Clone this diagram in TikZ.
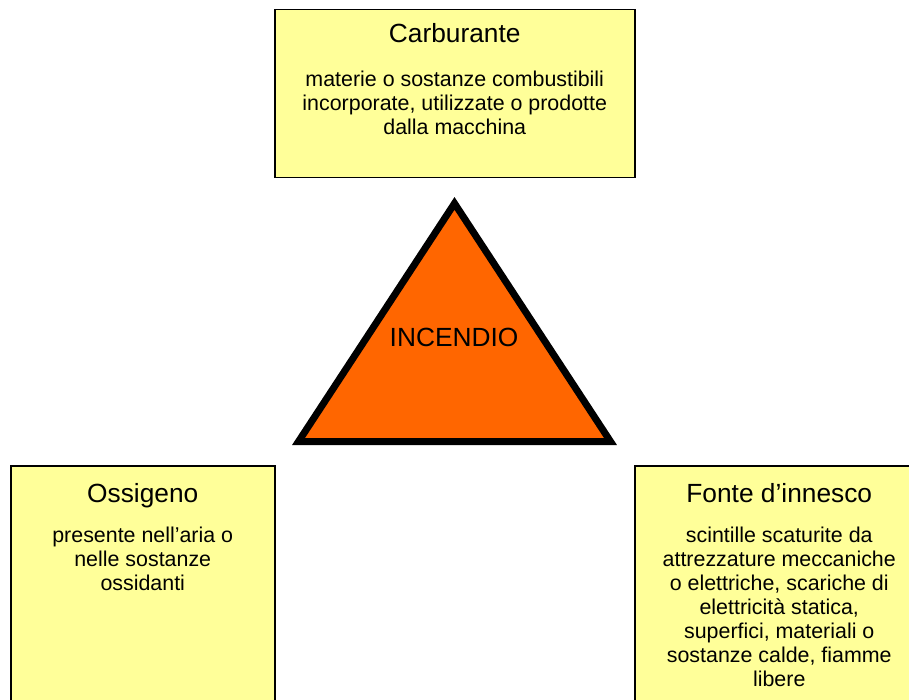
\documentclass[tikz,border=0pt]{standalone}
\usepackage{fontspec}
\setmainfont{Liberation Sans}
\usetikzlibrary{calc}
\definecolor{noteyellow}{HTML}{FFFF99}
\definecolor{fireorange}{HTML}{FF6600}
\begin{document}
\begin{tikzpicture}[x=1pt,y=-1pt,
  card/.style={draw=black, line width=1.5pt, fill=noteyellow, rectangle,
    inner sep=0pt, anchor=north west},
  heading/.style={font=\fontsize{26.3}{30}\selectfont, anchor=base, inner sep=0pt},
  body/.style={font=\fontsize{21.4}{24}\selectfont, align=center, anchor=base,
    inner sep=0pt},
]
\useasboundingbox (0,0) rectangle (909,700);
\clip (0,0) rectangle (909,700);

% the three cards
\node[card, minimum width=360, minimum height=168] (carb) at (274,9) {};
\node[card, minimum width=264, minimum height=260] (oss) at (10,465) {};
\node[card, minimum width=289, minimum height=260] (fonte) at (634,465) {};

% fuel (body anchored on its last baseline: first baseline + 24 per extra line)
\node[heading] (carbT) at ($(carb.north)+(0,34)$) {Carburante};
\node[body] (carbB) at ($(carb.north)+(0,125.7)$)
  {materie o sostanze combustibili\\incorporate, utilizzate o prodotte\\dalla macchina};

% oxygen
\node[heading] (ossT) at ($(oss.north)+(0,37)$) {Ossigeno};
\node[body] (ossB) at ($(oss.north)+(0,125.7)$)
  {presente nell’aria o\\nelle sostanze\\ossidanti};

% ignition source
\node[heading] (fonteT) at ($(fonte.north)+(0,37)$) {Fonte d’innesco};
\node[body] (fonteB) at ($(fonte.north)+(0,221.7)$)
  {scintille scaturite da\\attrezzature meccaniche\\o elettriche, scariche di\\elettricità statica,\\superfici, materiali o\\sostanze calde, fiamme\\libere};

% fire triangle
\coordinate (apex) at (454.5,203.4);
\coordinate (bl) at (298.5,441.5);
\coordinate (br) at (610.5,441.5);
\draw[line width=7pt, fill=fireorange, line join=miter] (apex) -- (br) -- (bl) -- cycle;
\node[heading] (fire) at (454,346) {INCENDIO};
\end{tikzpicture}
\end{document}
